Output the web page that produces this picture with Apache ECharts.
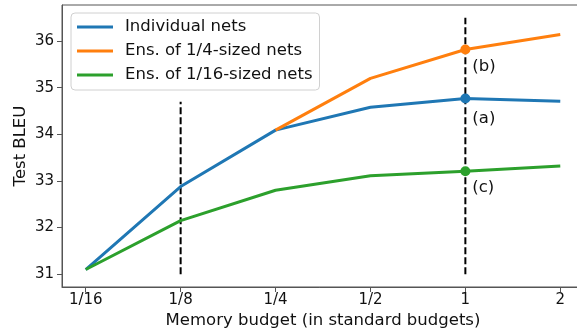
<!DOCTYPE html>
<html>
<head>
<meta charset="utf-8">
<script src="https://cdn.jsdelivr.net/npm/echarts@6/dist/echarts.min.js"></script>
<style>
  html, body { margin: 0; padding: 0; background: #fff; overflow: hidden; }
  #chart { width: 577px; height: 329px; }
</style>
</head>
<body>
<div id="chart"></div>
<script>
// Memory budget categories (x axis), in standard budgets
const budgets = ['1/16', '1/8', '1/4', '1/2', '1', '2'];

// Test BLEU per budget
const individualNets = [31.1, 32.88, 34.09, 34.58, 34.77, 34.71];
const quarterEnsemble = [null, null, 34.09, 35.20, 35.82, 36.14];
const sixteenthEnsemble = [31.1, 32.15, 32.80, 33.11, 33.21, 33.32];

const seriesNames = ['Individual nets', 'Ens. of 1/4-sized nets', 'Ens. of 1/16-sized nets'];
const seriesColors = ['#1f77b4', '#ff7f0e', '#2ca02c'];

// Highlighted budget and its tags
const markedBudget = 4;
const markTags = ['(a)', '(b)', '(c)'];
const markTagShift = [[7, 20], [7, 17], [7, 17]];

// Dashed reference lines: budget index, bottom and top value
const dividerBudgets = [1, 4];
const dividerBottoms = [31, 31];
const dividerTops = [34.7, 36.5];

const yTicks = [31, 32, 33, 34, 35, 36];
const yMin = 30.725, yMax = 36.775;

const FONT = 'DejaVu Sans';
const AXIS_COLOR = '#555';

function toPoints(values, k) {
  return values.map((v, i) => {
    if (v === null) return null;
    const item = { value: [i, v] };
    if (i === markedBudget) {
      item.label = {
        show: true,
        formatter: markTags[k],
        position: 'inside',
        align: 'left',
        verticalAlign: 'middle',
        offset: markTagShift[k],
        fontFamily: FONT,
        fontSize: 16.5,
        color: '#111'
      };
    }
    return item;
  }).filter(p => p !== null);
}

const dataSeries = [individualNets, quarterEnsemble, sixteenthEnsemble].map((vals, k) => ({
  name: seriesNames[k],
  type: 'line',
  data: toPoints(vals, k),
  color: seriesColors[k],
  lineStyle: { width: 3, color: seriesColors[k] },
  itemStyle: { color: seriesColors[k] },
  symbol: 'circle',
  symbolSize: (val) => (Math.round(val[0]) === markedBudget ? 10 : 0),
  showAllSymbol: true,
  z: 3 + k,
  animation: false
}));

const dividerSeries = dividerBudgets.map((b, i) => ({
  type: 'line',
  data: [[b, dividerBottoms[i]], [b, dividerTops[i]]],
  symbol: 'none',
  silent: true,
  lineStyle: { color: '#000', width: 2, type: [7, 3] },
  z: 2,
  animation: false
}));

const chart = echarts.init(document.getElementById('chart'), null, { renderer: 'canvas' });
chart.setOption({
  animation: false,
  textStyle: { fontFamily: FONT },
  // plot box runs slightly past the right edge of the canvas
  grid: {
    left: 62, top: 5, width: 522, height: 282,
    outerBoundsMode: 'none',
    containLabel: false,
    show: true, borderColor: AXIS_COLOR, borderWidth: 1, backgroundColor: 'transparent'
  },
  legend: {
    data: seriesNames,
    orient: 'vertical',
    left: 71, top: 13,
    icon: 'rect',
    itemWidth: 36, itemHeight: 3,
    itemGap: 6,
    padding: [5, 7, 6, 6],
    backgroundColor: 'rgba(255,255,255,0.8)',
    borderColor: '#d0d0d0', borderWidth: 1, borderRadius: 4,
    textStyle: { fontFamily: FONT, fontSize: 16.5, color: '#111', lineHeight: 18, padding: [0, 0, 0, 7] }
  },
  xAxis: {
    type: 'value',
    min: -0.25, max: 5.25,
    name: 'Memory budget (in standard budgets)',
    nameLocation: 'middle',
    nameGap: 25,
    nameMoveOverlap: false,
    nameTextStyle: { fontFamily: FONT, fontSize: 16.5, color: '#111' },
    axisLine: { show: true, onZero: false, lineStyle: { color: AXIS_COLOR, width: 1 } },
    axisTick: { show: true, length: 5, lineStyle: { color: AXIS_COLOR }, customValues: budgets.map((_, i) => i) },
    axisLabel: {
      customValues: budgets.map((_, i) => i),
      formatter: v => budgets[Math.round(v)],
      fontFamily: FONT, fontSize: 15, color: '#111', margin: 6
    },
    splitLine: { show: false }
  },
  yAxis: {
    type: 'value',
    min: yMin, max: yMax,
    name: 'Test BLEU',
    nameLocation: 'middle',
    nameGap: 32.5,
    nameMoveOverlap: false,
    nameTextStyle: { fontFamily: FONT, fontSize: 16.5, color: '#111' },
    axisLine: { show: true, onZero: false, lineStyle: { color: AXIS_COLOR, width: 1 } },
    axisTick: { show: true, length: 5, lineStyle: { color: AXIS_COLOR }, customValues: yTicks },
    axisLabel: { customValues: yTicks, fontFamily: FONT, fontSize: 15, color: '#111', margin: 8 },
    splitLine: { show: false }
  },
  series: dividerSeries.concat(dataSeries)
});
</script>
</body>
</html>
